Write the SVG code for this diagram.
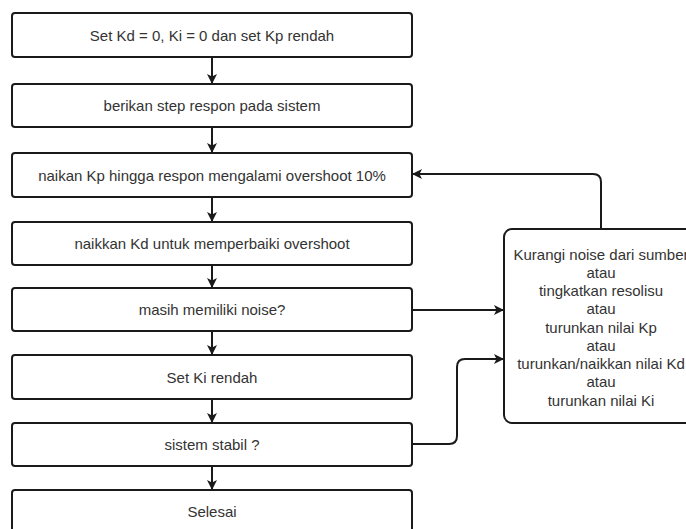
<svg xmlns="http://www.w3.org/2000/svg" width="686" height="529" viewBox="0 0 686 529">
<defs>
<style>
.box{fill:#ffffff;stroke:#1a1a1a;stroke-width:2}
.t{font-family:"Liberation Sans",Arial,sans-serif;font-size:15px;fill:#333333;text-anchor:middle}
.c{fill:none;stroke:#1a1a1a;stroke-width:2}
</style>
<marker id="ah" viewBox="0 0 10 10" refX="9" refY="5" markerWidth="10" markerHeight="10" markerUnits="userSpaceOnUse" orient="auto">
<path d="M0,0 L10,5 L0,10 L2.5,5 Z" fill="#1a1a1a"/>
</marker>
</defs>
<rect width="686" height="529" fill="#ffffff"/>
<g id="connectors">
<path class="c" d="M212,57 V83" marker-end="url(#ah)"/>
<path class="c" d="M212,127 V152" marker-end="url(#ah)"/>
<path class="c" d="M212,197 V221" marker-end="url(#ah)"/>
<path class="c" d="M212,265 V287" marker-end="url(#ah)"/>
<path class="c" d="M212,331 V354" marker-end="url(#ah)"/>
<path class="c" d="M212,399 V422" marker-end="url(#ah)"/>
<path class="c" d="M212,466 V489" marker-end="url(#ah)"/>
<path class="c" d="M601,229 V182 Q601,174 593,174 H413" marker-end="url(#ah)"/>
<path class="c" d="M412,310 H503" marker-end="url(#ah)"/>
<path class="c" d="M412,444 H449 Q457,444 457,436 V367 Q457,359 465,359 H503" marker-end="url(#ah)"/>
</g>
<g id="n1"><rect class="box" x="12" y="13" width="400" height="44" rx="3"/><text class="t" x="212" y="40.5">Set Kd = 0, Ki = 0 dan set Kp rendah</text></g>
<g id="n2"><rect class="box" x="12" y="84" width="400" height="43" rx="3"/><text class="t" x="212" y="111">berikan step respon pada sistem</text></g>
<g id="n3"><rect class="box" x="12" y="153" width="400" height="44" rx="3"/><text class="t" x="212" y="180.5">naikan Kp hingga respon mengalami overshoot 10%</text></g>
<g id="n4"><rect class="box" x="12" y="222" width="400" height="43" rx="3"/><text class="t" x="212" y="249">naikkan Kd untuk memperbaiki overshoot</text></g>
<g id="n5"><rect class="box" x="12" y="288" width="400" height="43" rx="3"/><text class="t" x="212" y="315">masih memiliki noise?</text></g>
<g id="n6"><rect class="box" x="12" y="355" width="400" height="44" rx="3"/><text class="t" x="212" y="382.5">Set Ki rendah</text></g>
<g id="n7"><rect class="box" x="12" y="423" width="400" height="43" rx="3"/><text class="t" x="212" y="450">sistem stabil ?</text></g>
<g id="n8"><rect class="box" x="12" y="490" width="400" height="44" rx="3"/><text class="t" x="212" y="517">Selesai</text></g>
<g id="n9"><rect class="box" x="504" y="229" width="196" height="194" rx="8"/>
<text class="t" x="601" y="259.5">Kurangi noise dari sumber</text>
<text class="t" x="601" y="277.75">atau</text>
<text class="t" x="601" y="296">tingkatkan resolisu</text>
<text class="t" x="601" y="314.25">atau</text>
<text class="t" x="601" y="332.5">turunkan nilai Kp</text>
<text class="t" x="601" y="350.75">atau</text>
<text class="t" x="601" y="369">turunkan/naikkan nilai Kd</text>
<text class="t" x="601" y="387.25">atau</text>
<text class="t" x="601" y="405.5">turunkan nilai Ki</text>
</g>
</svg>
